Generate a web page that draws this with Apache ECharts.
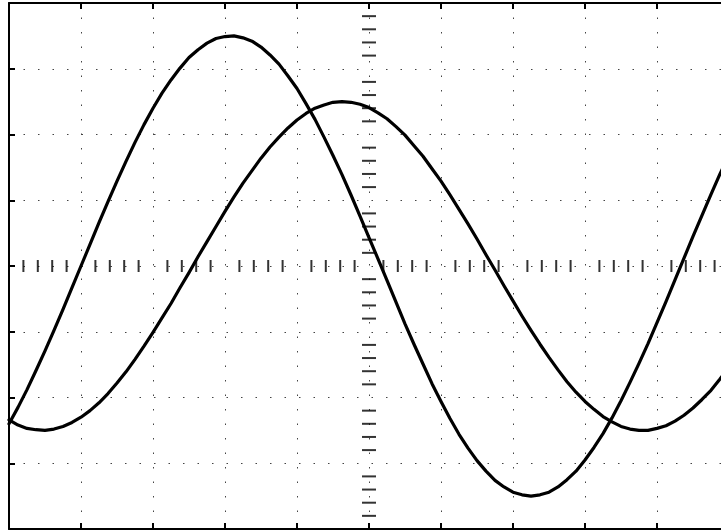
<!DOCTYPE html>
<html><head><meta charset="utf-8">
<script src="https://cdn.jsdelivr.net/npm/echarts@6/dist/echarts.min.js"></script>
<style>html,body{margin:0;padding:0;background:#fff;overflow:hidden}#c{width:740px;height:532px}</style>
</head><body><div id="c"></div>
<script>
// time axis samples (divisions)
const xValues = [0,0.125,0.25,0.375,0.5,0.625,0.75,0.875,1,1.125,1.25,1.375,1.5,1.625,1.75,1.875,2,2.125,2.25,2.375,2.5,2.625,2.75,2.875,3,3.125,3.25,3.375,3.5,3.625,3.75,3.875,4,4.125,4.25,4.375,4.5,4.625,4.75,4.875,5,5.125,5.25,5.375,5.5,5.625,5.75,5.875,6,6.125,6.25,6.375,6.5,6.625,6.75,6.875,7,7.125,7.25,7.375,7.5,7.625,7.75,7.875,8,8.125,8.25,8.375,8.5,8.625,8.75,8.875,9,9.125,9.25,9.375,9.5,9.625,9.75,9.875,10];
// larger trace
const traceA = [-2.40,-2.15,-1.88,-1.59,-1.29,-0.98,-0.66,-0.33,0,0.33,0.66,0.98,1.29,1.59,1.88,2.15,2.40,2.63,2.83,3.01,3.17,3.29,3.39,3.46,3.49,3.50,3.47,3.42,3.33,3.21,3.07,2.89,2.70,2.47,2.23,1.96,1.68,1.39,1.08,0.76,0.43,0.11,-0.22,-0.55,-0.88,-1.19,-1.49,-1.79,-2.06,-2.32,-2.56,-2.77,-2.96,-3.12,-3.26,-3.36,-3.44,-3.48,-3.50,-3.48,-3.44,-3.36,-3.25,-3.12,-2.95,-2.76,-2.55,-2.31,-2.05,-1.77,-1.48,-1.18,-0.86,-0.54,-0.21,0.12,0.45,0.77,1.09,1.40,1.69];
// smaller trace
const traceB = [-2.34,-2.42,-2.47,-2.49,-2.50,-2.48,-2.44,-2.38,-2.30,-2.20,-2.08,-1.94,-1.78,-1.61,-1.42,-1.22,-1.01,-0.79,-0.57,-0.33,-0.10,0.14,0.37,0.60,0.83,1.05,1.26,1.45,1.64,1.81,1.96,2.10,2.22,2.32,2.40,2.45,2.49,2.50,2.49,2.46,2.41,2.33,2.24,2.12,1.99,1.83,1.67,1.48,1.29,1.08,0.86,0.64,0.41,0.17,-0.06,-0.30,-0.53,-0.76,-0.98,-1.19,-1.39,-1.58,-1.76,-1.92,-2.06,-2.18,-2.29,-2.37,-2.44,-2.48,-2.50,-2.50,-2.47,-2.43,-2.36,-2.27,-2.16,-2.03,-1.89,-1.72,-1.54];
// minor graticule marks on the centre lines
const centerRowTicksX = [0.2,0.4,0.6,0.8,1.2,1.4,1.6,1.8,2.2,2.4,2.6,2.8,3.2,3.4,3.6,3.8,4.2,4.4,4.6,4.8,5.2,5.4,5.6,5.8,6.2,6.4,6.6,6.8,7.2,7.4,7.6,7.8,8.2,8.4,8.6,8.8,9.2,9.4,9.6,9.8];
const centerColTicksY = [-3.8,-3.6,-3.4,-3.2,-2.8,-2.6,-2.4,-2.2,-1.8,-1.6,-1.4,-1.2,-0.8,-0.6,-0.4,-0.2,0.2,0.4,0.6,0.8,1.2,1.4,1.6,1.8,2.2,2.4,2.6,2.8,3.2,3.4,3.6,3.8];

const chart = echarts.init(document.getElementById('c'), null, {renderer:'canvas'});
const borderLine = {onZero:false, lineStyle:{color:'#000', width:2}};
const borderTick = {show:true, inside:true, length:6, lineStyle:{color:'#000', width:2}};
const dotted = {show:true, lineStyle:{color:'#444', width:1, type:[1.5,13]}};
chart.setOption({
  animation:false,
  backgroundColor:'#fff',
  grid:{left:9, top:3, width:720, height:526, containLabel:false},
  xAxis:[
    {type:'value', min:0, max:10, interval:1, position:'bottom', axisLine:borderLine, axisTick:borderTick, axisLabel:{show:false}, splitLine:dotted},
    {type:'value', min:0, max:10, interval:1, position:'top', axisLine:borderLine, axisTick:borderTick, axisLabel:{show:false}, splitLine:{show:false}}
  ],
  yAxis:[
    {type:'value', min:-4, max:4, interval:1, position:'left', axisLine:borderLine, axisTick:borderTick, axisLabel:{show:false}, splitLine:dotted}
  ],
  series:[
    {type:'scatter', silent:true, z:2, symbol:'rect', symbolSize:[2,12], itemStyle:{color:'#000'},
     data:centerRowTicksX.map(x=>[x,0])},
    {type:'scatter', silent:true, z:2, symbol:'rect', symbolSize:[14,2], itemStyle:{color:'#000'},
     data:centerColTicksY.map(y=>[5,y])},
    {type:'line', z:3, smooth:false, showSymbol:false, symbol:'none', lineStyle:{color:'#000', width:3.2, join:'round', cap:'round'},
     data:xValues.map((x,i)=>[x,traceA[i]])},
    {type:'line', z:3, smooth:false, showSymbol:false, symbol:'none', lineStyle:{color:'#000', width:3.2, join:'round', cap:'round'},
     data:xValues.map((x,i)=>[x,traceB[i]])}
  ]
});
</script></body></html>
